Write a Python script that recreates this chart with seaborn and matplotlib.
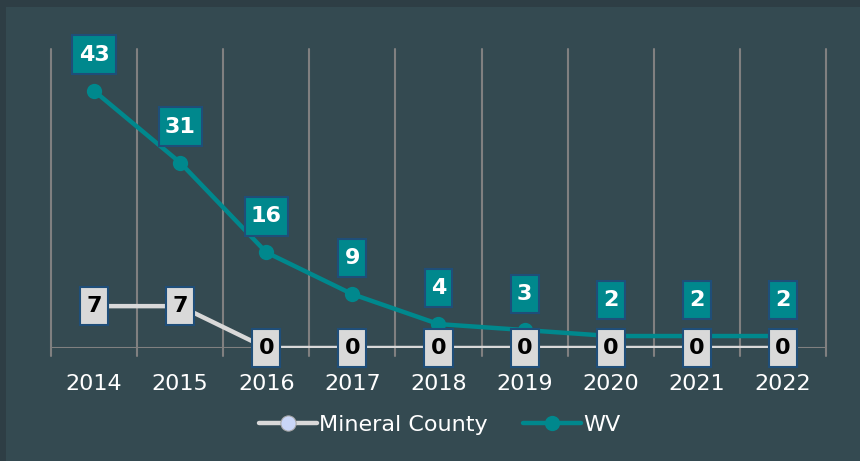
import matplotlib
matplotlib.use('Agg')
import matplotlib.pyplot as plt
import seaborn as sns
import pandas as pd
from matplotlib.patches import Rectangle
from matplotlib.path import Path

years = ['2014', '2015', '2016', '2017', '2018', '2019', '2020', '2021', '2022']
mineral = [7, 7, 0, 0, 0, 0, 0, 0, 0]
wv = [43, 31, 16, 9, 4, 3, 2, 2, 2]

bg_outer = '#2e3e45'
bg_inner = '#344a51'
teal = '#00888d'
light = '#d9d9d9'
edge_blue = '#1f4e79'
grid_gray = '#808080'

df = pd.DataFrame({'year': years, 'Mineral County': mineral, 'WV': wv})
df['x'] = range(len(years))


def label_box(x0, y0, width, height, mutation_size):
    # taller than wide padding, like the excel data labels
    px = 0.28 * mutation_size
    py = 0.42 * mutation_size
    x0, y0 = x0 - px, y0 - py
    x1, y1 = x0 + width + 2 * px, y0 + height + 2 * py
    return Path([(x0, y0), (x1, y0), (x1, y1), (x0, y1), (x0, y0)], closed=True)


sns.set_style('white')
plt.rcParams['font.family'] = ['DejaVu Sans']

fig = plt.figure(figsize=(8.6, 4.61), dpi=100, facecolor=bg_inner)
# darker strips along the top and left edge
fig.patches.append(Rectangle((0, 1 - 7 / 461), 1, 7 / 461, transform=fig.transFigure,
                             facecolor=bg_outer, edgecolor='none', zorder=-5))
fig.patches.append(Rectangle((0, 0), 6 / 860, 1, transform=fig.transFigure,
                             facecolor=bg_outer, edgecolor='none', zorder=-5))
ax = fig.add_axes([51 / 860, 1 - 348 / 461, 775 / 860, 299 / 461])
ax.set_facecolor('none')

# vertical gridlines between categories
for b in [i - 0.5 for i in range(len(years) + 1)]:
    ax.plot([b, b], [-1.4, 50], color=grid_gray, lw=1.5, zorder=1, clip_on=False)
ax.plot([-0.5, len(years) - 0.5], [0, 0], color=grid_gray, lw=1.5, zorder=1)

sns.lineplot(data=df, x='x', y='WV', ax=ax, color=teal, lw=3.2, marker='o',
             markersize=11, markeredgewidth=0, zorder=3, label='WV')
sns.lineplot(data=df, x='x', y='Mineral County', ax=ax, color=light, lw=3.2, marker='o',
             markersize=11, markerfacecolor='#c9d6f7', markeredgecolor='#a6a6a6',
             zorder=4, label='Mineral County')

for i, v in enumerate(wv):
    ax.annotate(str(v), (i, v), xytext=(0, 26), textcoords='offset points',
                ha='center', va='center', fontsize=16, fontweight='bold', color='white',
                bbox=dict(boxstyle=label_box, fc=teal, ec=edge_blue, lw=1.5),
                zorder=6, annotation_clip=False)
for i, v in enumerate(mineral):
    ax.annotate(str(v), (i, v), ha='center', va='center', fontsize=16,
                fontweight='bold', color='black',
                bbox=dict(boxstyle=label_box, fc=light, ec=edge_blue, lw=1.5),
                zorder=7, annotation_clip=False)

ax.set_xlim(-0.5, len(years) - 0.5)
ax.set_ylim(0, 50)
ax.set_xticks(range(len(years)))
ax.set_xticklabels(years, color='white', fontsize=16)
ax.tick_params(axis='x', length=0, pad=19)
ax.set_yticks([])
ax.set_xlabel('')
ax.set_ylabel('')
for s in ax.spines.values():
    s.set_visible(False)

handles, labels = ax.get_legend_handles_labels()
leg = fig.legend(handles[::-1], labels[::-1], loc='center', bbox_to_anchor=(440 / 860, 1 - 425 / 461),
                 ncol=2, frameon=False, fontsize=16, labelcolor='white',
                 handlelength=2.6, handletextpad=0.1, columnspacing=1.6)
ax.get_legend().remove()

fig.savefig('out.png', dpi=100, facecolor=fig.get_facecolor())
